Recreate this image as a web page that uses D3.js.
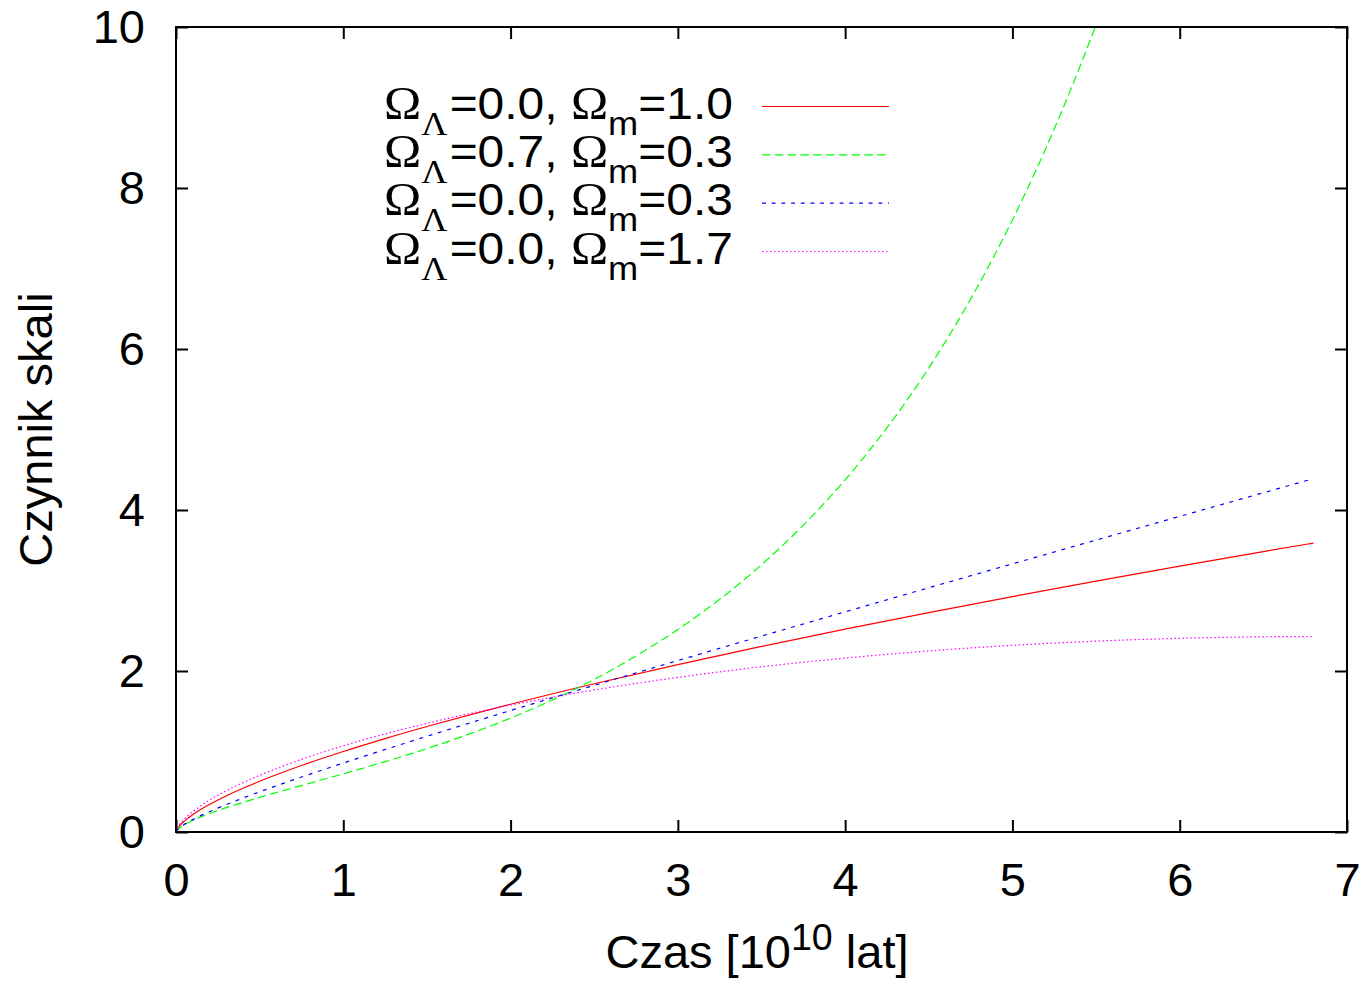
<!DOCTYPE html>
<html>
<head>
<meta charset="utf-8">
<script src="https://cdn.jsdelivr.net/npm/d3@7"></script>
<style>
  html, body { margin: 0; padding: 0; background: #fff; }
  svg { display: block; }
  text { white-space: pre; }
</style>
</head>
<body>
<svg id="chart" width="1362" height="987"></svg>
<script>
// Axis ticks
const xTicks = [0, 1, 2, 3, 4, 5, 6, 7];
const yTicks = [0, 2, 4, 6, 8, 10];

// Scale factor a(t), t in units of 10^10 years: [t, a]
const flatMatter = [[0,0],[0.01,0.0464],[0.02,0.0737],[0.05,0.1357],[0.1,0.2154],[0.2,0.3420],[0.3,0.4481],[0.4,0.5429],[0.5,0.6300],[0.75,0.8255],[1,1],[1.25,1.1604],[1.5,1.3104],[1.75,1.4522],[2,1.5874],[2.5,1.8420],[3,2.0801],[3.5,2.3052],[4,2.5198],[4.5,2.7257],[5,2.9240],[5.5,3.1158],[6,3.3019],[6.5,3.4830],[6.8,3.5894]];
const lambdaMatter = [[0,0],[0.02,0.0493],[0.05,0.0909],[0.1,0.1443],[0.2,0.2297],[0.3,0.3021],[0.4,0.3680],[0.5,0.4300],[0.75,0.5770],[1,0.7223],[1.25,0.8736],[1.5,1.0363],[1.75,1.2152],[2,1.4150],[2.25,1.6402],[2.5,1.8958],[2.75,2.1870],[3,2.5150],[3.5,3.3200],[3.75,3.8120],[4,4.3750],[4.5,5.7650],[4.75,6.6200],[5,7.6030],[5.25,8.7330],[5.4,9.4900],[5.5,10.0280]];
const openMatter = [[0,0],[0.0081,0.0273],[0.0278,0.0631],[0.0673,0.1164],[0.1352,0.1904],[0.2418,0.2898],[0.3997,0.4209],[0.6250,0.5919],[0.9378,0.8136],[1.3639,1.0998],[1.9360,1.4686],[2.2895,1.6909],[2.6961,1.9431],[3.1629,2.2290],[3.6980,2.5532],[4.3105,2.9206],[5.0107,3.3371],[5.9833,3.9109],[6.8,4.3897]];
const closedMatter = [[0,0],[0.0057,0.0378],[0.0190,0.0844],[0.0448,0.1486],[0.1488,0.3258],[0.3451,0.5582],[0.4849,0.6907],[0.6553,0.8314],[0.8580,0.9780],[1.0940,1.1284],[1.6676,1.4307],[2.3745,1.7196],[3.2044,1.9771],[4.1397,2.1871],[5.1559,2.3367],[6.2238,2.4164],[6.5712,2.4263],[6.8,2.4285]];

// Legend parameters
const omegaLambda = ["0.0", "0.7", "0.0", "0.0"];
const omegaMatter = ["1.0", "0.3", "0.3", "1.7"];

const curves = [flatMatter, lambdaMatter, openMatter, closedMatter];
const colors = ["#ff0000", "#00ff00", "#0000ff", "#ff00ff"];
const dashes = [null, "8.5,4.3", "3.9,5.8", "1.5,2.5"];

const W = 1362, H = 987;
const plotLeft = 176, plotRight = 1347, plotTop = 27, plotBottom = 832;
const FONT = "'Liberation Sans', Arial, Helvetica, sans-serif";
const SERIF = "'Liberation Serif', 'Times New Roman', Times, serif";
const FS = 47;

const svg = d3.select("#chart");
svg.append("rect").attr("width", W).attr("height", H).attr("fill", "#fff");

const x = d3.scaleLinear().domain([0, 7]).range([plotLeft, plotRight]);
const y = d3.scaleLinear().domain([0, 10]).range([plotBottom, plotTop]);

// Clip region for the curves
svg.append("defs").append("clipPath").attr("id", "plot-clip")
  .append("rect").attr("x", plotLeft).attr("y", plotTop)
  .attr("width", plotRight - plotLeft).attr("height", plotBottom - plotTop);

const styleAxis = g => {
  g.select(".domain").remove();
  g.selectAll(".tick line").attr("stroke", "#000").attr("stroke-width", 2);
  g.selectAll(".tick text").attr("font-family", FONT).attr("font-size", FS).attr("fill", "#000");
};

// Bottom and left axes with labels, ticks pointing inward
svg.append("g").attr("transform", `translate(0,${plotBottom})`)
  .call(d3.axisBottom(x).tickValues(xTicks).tickSizeInner(-12).tickSizeOuter(0).tickPadding(31).tickFormat(d3.format("d")))
  .call(styleAxis);
svg.append("g").attr("transform", `translate(${plotLeft},0)`)
  .call(d3.axisLeft(y).tickValues(yTicks).tickSizeInner(-12).tickSizeOuter(0).tickPadding(31).tickFormat(d3.format("d")))
  .call(styleAxis);
// Mirrored ticks on top and right
svg.append("g").attr("transform", `translate(0,${plotTop})`)
  .call(d3.axisTop(x).tickValues(xTicks).tickSizeInner(-12).tickSizeOuter(0).tickFormat(""))
  .call(styleAxis);
svg.append("g").attr("transform", `translate(${plotRight},0)`)
  .call(d3.axisRight(y).tickValues(yTicks).tickSizeInner(-12).tickSizeOuter(0).tickFormat(""))
  .call(styleAxis);

// Curves
const line = d3.line().x(d => x(d[0])).y(d => y(d[1])).curve(d3.curveMonotoneX);
const plot = svg.append("g").attr("clip-path", "url(#plot-clip)");
curves.forEach((pts, i) => {
  plot.append("path").datum(pts)
    .attr("d", line)
    .attr("fill", "none")
    .attr("stroke", colors[i])
    .attr("stroke-width", 1.2)
    .attr("stroke-dasharray", dashes[i]);
});

// Frame
svg.append("rect").attr("x", plotLeft).attr("y", plotTop)
  .attr("width", plotRight - plotLeft).attr("height", plotBottom - plotTop)
  .attr("fill", "none").attr("stroke", "#000").attr("stroke-width", 2);

// Legend: labels are set in a slightly wide face, stretched to span the key column
const legendRowY = d3.scaleLinear().domain([0, 3]).range([106.5, 251.5]);
const LFS = 45, OMEGA = 47, SUB = 34, SHIFT = 16;
const KEY_X0 = 384, KEY_X1 = 733;
omegaLambda.forEach((lam, i) => {
  const cy = legendRowY(i);
  const g = svg.append("g");
  const t = g.append("text").attr("x", 0).attr("y", 0)
    .attr("font-family", FONT).attr("font-size", LFS).attr("fill", "#000");
  t.append("tspan").attr("font-family", SERIF).attr("font-size", OMEGA).text("\u03A9");
  t.append("tspan").attr("font-family", SERIF).attr("font-size", SUB).attr("dy", SHIFT).text("\u039B");
  t.append("tspan").attr("dy", -SHIFT).attr("dx", 2).text(`=${lam}, `);
  t.append("tspan").attr("font-family", SERIF).attr("font-size", OMEGA).text("\u03A9");
  t.append("tspan").attr("font-size", SUB).attr("dy", SHIFT).text("m");
  t.append("tspan").attr("dy", -SHIFT).text(`=${omegaMatter[i]}`);
  const bb = t.node().getBBox();
  const sx = (KEY_X1 - KEY_X0) / bb.width;
  g.attr("transform", `translate(${KEY_X0 - bb.x * sx},${cy + 12}) scale(${sx},1)`);
  svg.append("line").attr("x1", 762).attr("x2", 889).attr("y1", cy).attr("y2", cy)
    .attr("stroke", colors[i]).attr("stroke-width", 1.2)
    .attr("stroke-dasharray", dashes[i]);
});

// Axis titles
const xt = svg.append("text").attr("x", 757).attr("y", 968)
  .attr("text-anchor", "middle").attr("font-family", FONT).attr("font-size", FS).attr("fill", "#000");
xt.append("tspan").text("Czas [10");
xt.append("tspan").attr("font-size", FS * 0.8).attr("dy", -18).text("10");
xt.append("tspan").attr("dy", 18).text(" lat]");

svg.append("text")
  .attr("transform", `translate(52,${(plotTop + plotBottom) / 2}) rotate(-90)`)
  .attr("text-anchor", "middle").attr("font-family", FONT).attr("font-size", FS).attr("fill", "#000")
  .text("Czynnik skali");
</script>
</body>
</html>
